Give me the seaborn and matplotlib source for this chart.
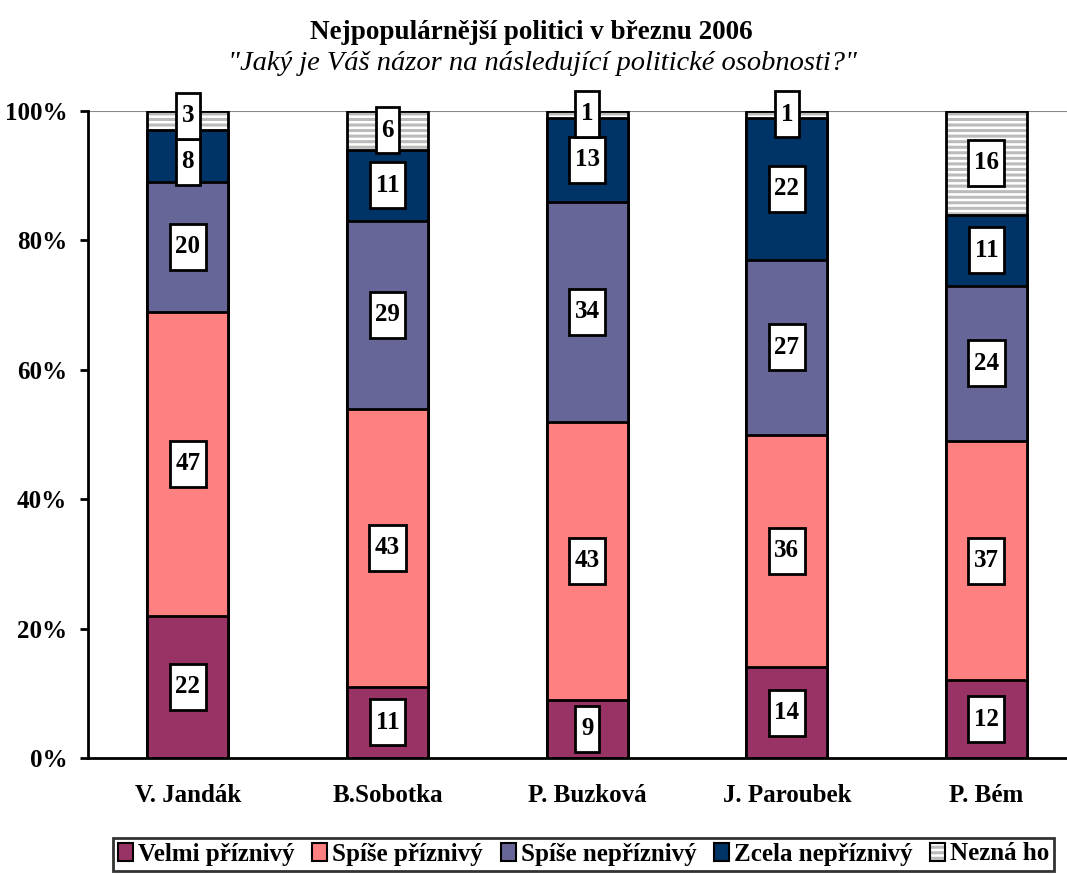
import matplotlib
matplotlib.use("Agg")
import matplotlib.pyplot as plt
import seaborn as sns
import numpy as np
import pandas as pd
from matplotlib.patches import Patch
from matplotlib.path import Path
from matplotlib.legend_handler import HandlerTuple

politicians = ["V. Jandák", "B.Sobotka", "P. Buzková", "J. Paroubek", "P. Bém"]
series_names = ["Velmi příznivý", "Spíše příznivý", "Spíše nepříznivý", "Zcela nepříznivý", "Nezná ho"]
velmi = [22, 11, 9, 14, 12]
spise_pri = [47, 43, 43, 36, 37]
spise_nepri = [20, 29, 34, 27, 24]
zcela_nepri = [8, 11, 13, 22, 11]
nezna = [3, 6, 1, 1, 16]
ytick_labels = ["0%", "20%", "40%", "60%", "80%", "100%"]

colors = ["#993366", "#FF8080", "#666699", "#003366", "#FFFFFF"]
HATCH_GRAY = "#BBBBBB"

sns.set_style("white")
plt.rcParams['font.family'] = ['Liberation Serif', 'DejaVu Serif']
plt.rcParams['text.color'] = 'black'
plt.rcParams['xtick.color'] = 'black'
plt.rcParams['ytick.color'] = 'black'
plt.rcParams['axes.labelcolor'] = 'black'
plt.rcParams['hatch.linewidth'] = 2.2

fig = plt.figure(figsize=(10.67, 8.75), dpi=100)
ax = fig.add_axes([0.0825, 0.1337, 0.93, 0.7394])

data = [velmi, spise_pri, spise_nepri, zcela_nepri, nezna]
cum = np.cumsum(np.array(data), axis=0)
BAR_W = 0.405

# draw from top layer down so lower layers cover
for i in range(len(data) - 1, -1, -1):
    df = pd.DataFrame({"name": politicians, "val": cum[i]})
    if i == 4:
        # gray hatch (hatch takes edge colour), then black outline
        sns.barplot(data=df, x="name", y="val", color="white", width=BAR_W,
                    edgecolor=HATCH_GRAY, linewidth=0, ax=ax, saturation=1, hatch="---")
        sns.barplot(data=df, x="name", y="val", color="black", width=BAR_W,
                    fill=False, linewidth=2, ax=ax, saturation=1)
    else:
        sns.barplot(data=df, x="name", y="val", color=colors[i], width=BAR_W,
                    edgecolor="black", linewidth=2, ax=ax, saturation=1)


def tall_box(x0, y0, width, height, mutation_size):
    px = 0.22 * mutation_size
    py = 0.46 * mutation_size
    x0, y0 = x0 - px, y0 - py
    x1, y1 = x0 + width + 2 * px, y0 + height + 2 * py
    return Path([(x0, y0), (x1, y0), (x1, y1), (x0, y1), (x0, y0)],
                closed=True)


ax.set_ylim(0, 100)
ax.set_xlim(-0.5, 4.47)

# labels
texts = {}
for j in range(len(politicians)):
    for i in range(len(data)):
        bottom = cum[i][j] - data[i][j]
        center = bottom + data[i][j] / 2
        texts[(j, i)] = ax.text(j, center, str(data[i][j]), ha="center", va="center",
                                fontsize=18, fontweight="bold", color="black", zorder=10,
                                bbox=dict(boxstyle=tall_box, fc="white", ec="black", lw=2))

# simple overlap avoidance between stacked labels (push apart symmetrically)
fig.canvas.draw()
renderer = fig.canvas.get_renderer()
inv = ax.transData.inverted()
ext = texts[(0, 0)].get_bbox_patch().get_window_extent(renderer)
box_h = inv.transform((0, ext.height))[1] - inv.transform((0, 0))[1]
for j in range(len(politicians)):
    for i in range(len(data) - 1, 0, -1):
        t_up, t_dn = texts[(j, i)], texts[(j, i - 1)]
        y_up, y_dn = t_up.get_position()[1], t_dn.get_position()[1]
        deficit = box_h - (y_up - y_dn)
        if deficit > 0:
            t_up.set_y(y_up + deficit / 2)
            t_dn.set_y(y_dn - deficit / 2)

ax.axhline(100, color="#888888", lw=1.5, zorder=0)
ax.set_yticks([0, 20, 40, 60, 80, 100])
ax.set_yticklabels(ytick_labels, fontsize=18, fontweight="bold")
ax.set_xticks(range(len(politicians)))
ax.set_xticklabels(politicians, fontsize=18, fontweight="bold")
ax.set_xticks([-0.5, 0.5, 1.5, 2.5, 3.5], minor=True)
ax.tick_params(axis="x", which="major", length=0, pad=19)
ax.tick_params(axis="x", which="minor", length=8, width=2, direction="out", color="black")
ax.tick_params(axis="y", length=6, width=2, direction="out", color="black", pad=9, left=True)
ax.set_xlabel("")
ax.set_ylabel("")
for s in ["top", "right"]:
    ax.spines[s].set_visible(False)
for s in ["left", "bottom"]:
    ax.spines[s].set_color("black")
    ax.spines[s].set_linewidth(2)

fig.text(0.498, 0.963, "Nejpopulárnější politici v březnu 2006", ha="center", va="center",
         fontsize=19.5, fontweight="bold")
fig.text(0.508, 0.927, "\"Jaký je Váš názor na následující politické osobnosti?\"", ha="center",
         va="center", fontsize=20.5, style="italic")

handles = []
for i in range(5):
    if i == 4:
        handles.append((Patch(facecolor="white", edgecolor=HATCH_GRAY, linewidth=0, hatch="---"),
                        Patch(facecolor="none", edgecolor="black", linewidth=1.5)))
    else:
        handles.append(Patch(facecolor=colors[i], edgecolor="black", linewidth=1.5))
leg = fig.legend(handles, series_names, loc="center", bbox_to_anchor=(0.547, 0.024),
                 ncol=5, frameon=True, fancybox=False, edgecolor="black",
                 prop=dict(family="Liberation Serif", weight="bold", size=18),
                 handlelength=0.6, handleheight=0.7, handletextpad=0.2, columnspacing=0.7,
                 borderpad=0.2, borderaxespad=0,
                 handler_map={tuple: HandlerTuple(ndivide=1, pad=0)})
leg.get_frame().set_linewidth(2)

fig.savefig("out.png", dpi=100)
